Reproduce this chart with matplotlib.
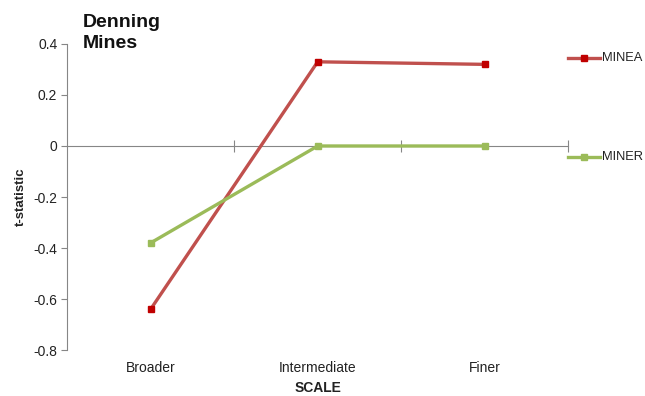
import matplotlib
matplotlib.use("Agg")
import matplotlib.pyplot as plt
from matplotlib.lines import Line2D

plt.rcParams['font.family'] = ['Liberation Sans', 'DejaVu Sans']

categories = ["Broader", "Intermediate", "Finer"]
minea = [-0.64, 0.33, 0.32]
miner = [-0.38, 0.0, 0.0]
series_names = ["MINEA", "MINER"]
y_ticks = [0.4, 0.2, 0.0, -0.2, -0.4, -0.6, -0.8]
y_tick_labels = ["0.4", "0.2", "0", "-0.2", "-0.4", "-0.6", "-0.8"]

red_line = "#C0504D"
red_marker = "#C00000"
green_line = "#9BBB59"
text_col = "#222222"
axis_col = "#868686"

fig = plt.figure(figsize=(6.45, 3.96), dpi=100)
ax = fig.add_axes([0.104, 0.116, 0.777, 0.773])

x = list(range(len(categories)))
ax.plot(x, minea, color=red_line, lw=2.4, marker="s", ms=5,
        mfc=red_marker, mec=red_marker, zorder=3)
ax.plot(x, miner, color=green_line, lw=2.4, marker="s", ms=5,
        mfc=green_line, mec=green_line, zorder=3)

ax.set_xlim(-0.5, 2.5)
ax.set_ylim(-0.8, 0.4)

# y axis
ax.set_yticks(y_ticks, labels=y_tick_labels)
ax.tick_params(axis="y", direction="out", length=4, color=axis_col,
               labelsize=10, labelcolor=text_col, pad=3)
ax.spines["left"].set_color(axis_col)
ax.spines["top"].set_visible(False)
ax.spines["right"].set_visible(False)

# category axis crossing at zero, tick marks between categories
ax.spines["bottom"].set_position(("data", 0))
ax.spines["bottom"].set_color(axis_col)
ax.set_xticks([0.5, 1.5, 2.5])
ax.tick_params(axis="x", direction="inout", length=8, color=axis_col,
               labelbottom=False)

# category labels below the plot area
sec = ax.secondary_xaxis("bottom")
sec.set_xticks(x, labels=categories)
sec.tick_params(length=0, labelsize=10, labelcolor=text_col, pad=8)
sec.spines["bottom"].set_visible(False)
sec.set_xlabel("SCALE", fontsize=10, fontweight="bold", color=text_col, labelpad=4)

ax.set_ylabel("t-statistic", fontsize=9.5, fontweight="bold", color=text_col, labelpad=5)

fig.text(0.128, 0.965, "Denning\nMines", fontsize=14, fontweight="bold",
         color="#111111", va="top", ha="left", linespacing=1.28)

# legend entries on the right
for name, lc, mc, yy in [(series_names[0], red_line, red_marker, 58),
                         (series_names[1], green_line, green_line, 157)]:
    yf = 1 - yy / 396
    fig.add_artist(Line2D([568 / 645, 600 / 645], [yf, yf], color=lc, lw=2.4,
                          transform=fig.transFigure))
    fig.add_artist(Line2D([584 / 645], [yf], color=mc, marker="s", ms=5,
                          mfc=mc, mec=mc, transform=fig.transFigure))
    fig.text(602 / 645, yf, name, fontsize=9.3, color=text_col,
             va="center", ha="left")

fig.savefig("out.png", dpi=100)
